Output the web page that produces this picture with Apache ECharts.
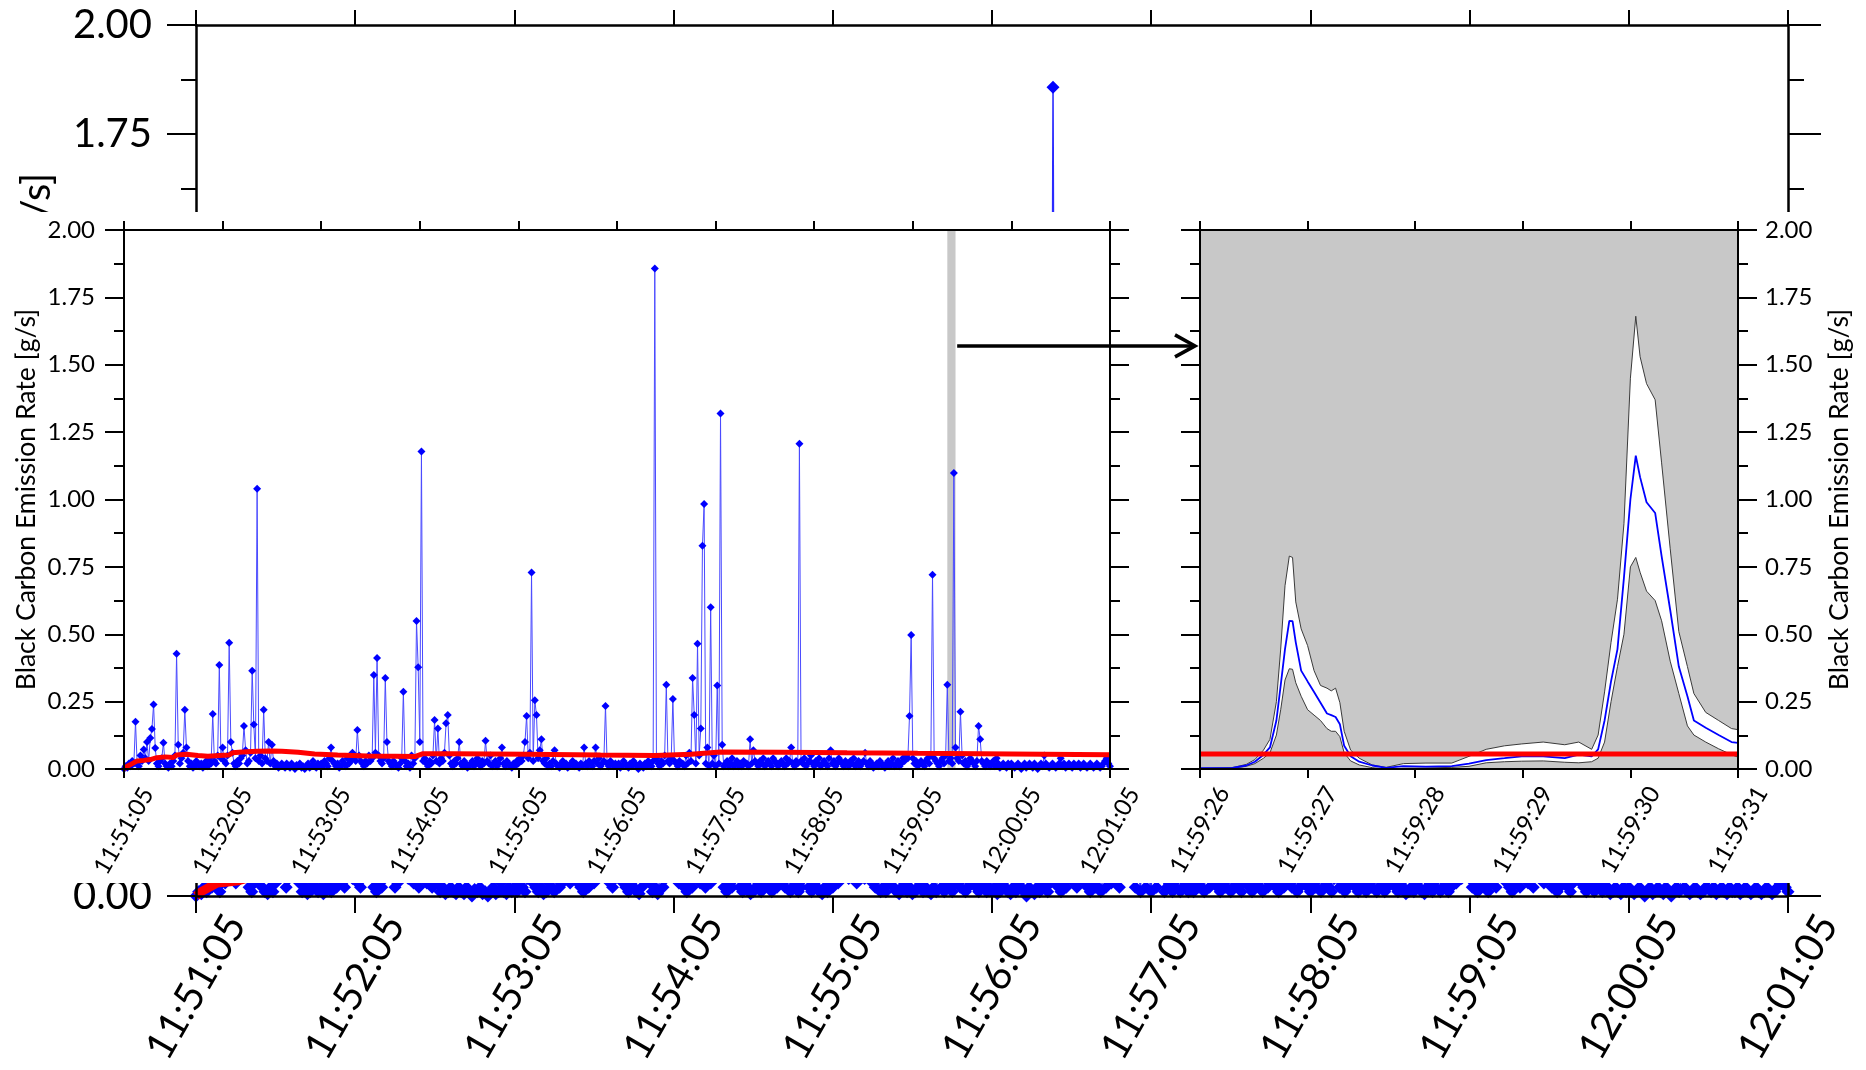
<!DOCTYPE html>
<html><head><meta charset="utf-8">
<script src="https://cdn.jsdelivr.net/npm/echarts@6/dist/echarts.min.js"></script>
<style>html,body{margin:0;padding:0;background:#fff}#c{width:1866px;height:1070px}</style>
</head><body><div id="c"></div>
<script>
// ---------- data ----------
const fullTickLabels = ['11:51:05','11:52:05','11:53:05','11:54:05','11:55:05','11:56:05','11:57:05','11:58:05','11:59:05','12:00:05','12:01:05'];
const zoomTickLabels = ['11:59:26','11:59:27','11:59:28','11:59:29','11:59:30','11:59:31'];
const yAxisTitle = 'Black Carbon Emission Rate [g/s]';

// 1 Hz black carbon emission rate [g/s], index = seconds after 11:51:05
const bcRate = [
0,.01,.005,.02,.01,.03,.02,.175,.02,.01,.05,.03,.072,.04,.1,.03,.115,.148,.239,.078,
.02,.01,.03,.04,.097,.02,.01,.005,.02,.01,.03,.05,.428,.09,.02,.04,.06,.22,.08,.03,
.01,.02,.005,.01,.03,.02,.01,.02,.005,.015,.03,.01,.04,.02,.204,.03,.02,.05,.386,.04,
.08,.03,.02,.05,.468,.1,.06,.02,.01,.03,.02,.04,.05,.16,.07,.02,.03,.06,.365,.165,
.04,1.04,.03,.05,.02,.22,.04,.03,.1,.02,.09,.03,.01,.02,.005,.01,.02,.01,.005,.02,
.01,.005,.02,.01,0,.015,.01,.02,.005,.01,0,.01,.02,.005,.01,.03,.01,.005,.02,.01,
.02,.01,.03,.02,.01,.04,.08,.03,.02,.01,.02,.005,.01,.03,.02,.01,.04,.02,.03,.06,
.04,.03,.145,.05,.03,.02,.01,.03,.02,.05,.03,.04,.349,.06,.412,.05,.03,.02,.04,.338,
.1,.03,.02,.01,.03,.02,.01,.005,.02,.04,.287,.03,.01,.02,.005,.05,.02,.04,.549,.378,
.1,1.178,.03,.04,.02,.01,.03,.02,.05,.182,.03,.15,.02,.04,.03,.06,.17,.2,.05,.02,
.01,.03,.02,.04,.1,.02,.01,.03,.02,.005,.01,.02,.03,.01,.02,.04,.02,.01,.03,.02,
.105,.03,.02,.05,.01,.02,.03,.01,.02,.04,.08,.02,.01,.03,.02,.01,.005,.02,.01,.03,
.02,.04,.03,.05,.1,.197,.04,.06,.729,.03,.255,.2,.04,.07,.11,.03,.02,.04,.01,.02,
.01,.03,.07,.02,.01,.005,.02,.03,.01,.02,.005,.01,.02,.03,.01,.02,.01,.005,.02,.01,
.08,.02,.01,.03,.02,.01,.03,.08,.02,.04,.01,.02,.03,.234,.02,.01,.03,.02,.01,.02,
.01,.02,.005,.01,.03,.02,.01,.005,.02,.01,.03,.02,.01,0,.02,.01,.005,.02,.01,.03,
.02,.01,.03,1.857,.04,.02,.01,.03,.02,.05,.313,.03,.02,.04,.26,.03,.02,.01,.03,.02,
.02,.01,.05,.02,.06,.03,.338,.2,.02,.465,.05,.15,.828,.983,.02,.08,.01,.6,.02,.05,
.01,.31,.02,1.319,.09,.01,.02,.03,.01,.02,.04,.01,.02,.03,.01,.02,.01,.03,.02,.02,
.01,.11,.02,.07,.03,.02,.01,.03,.02,.04,.01,.02,.03,.02,.01,.04,.03,.02,.01,.02,
.03,.02,.01,.04,.02,.03,.08,.02,.01,.03,.02,1.207,.03,.02,.04,.01,.02,.03,.05,.02,
.01,.03,.02,.04,.01,.02,.03,.02,.01,.04,.07,.02,.03,.01,.02,.04,.03,.02,.01,.03,
.02,.01,.03,.02,.04,.01,.02,.03,.01,.02,.03,.06,.02,.01,.03,.02,.005,.01,.02,.01,
.03,.02,.01,.005,.02,.03,.01,.02,.04,.01,.02,.03,.01,.02,.04,.03,.05,.04,.197,.497,
.04,.02,.03,.01,.02,.03,.02,.01,.03,.04,.02,.05,.721,.04,.03,.02,.01,.03,.04,.02,
.05,.313,.03,.04,.02,1.098,.08,.04,.03,.212,.05,.02,.03,.01,.02,.04,.03,.02,.01,.03,
.16,.11,.03,.02,.01,.03,.02,.01,.02,.03,.01,.04,.02,.005,.01,.02,.01,.005,.02,.01,
.02,.01,.005,.01,.02,.01,0,.01,.02,.005,.01,.02,.01,.005,.02,.01,0,.01,.02,.01,
.05,.02,.01,.005,.01,.02,.01,.005,.01,.02,.04,.01,.02,.005,.01,.02,.01,.005,.02,.01,
.01,.02,.005,.01,.02,.01,.005,.01,.02,.01,.005,.01,.02,.01,.005,.01,.02,.03,.04,.02,
.01
];

// running average (red line), seconds after 11:51:05
const avgSeconds = [0,2,5,8,12,16,20,25,30,32,38,45,51,58,64,66,72,81,90,96,106,116,130,148,165,177,182,200,246,290,323,345,363,400,440,483,540,600];
const avgRate    = [0,.01,.02,.03,.032,.035,.042,.045,.043,.052,.055,.05,.047,.05,.052,.06,.063,.066,.067,.066,.062,.056,.052,.048,.047,.046,.057,.057,.055,.052,.05,.055,.063,.062,.06,.058,.056,.053];

// zoom window (seconds after 11:51:05) shown by the grey band
const zoomWindow = [501, 506];

// 5 s zoom, seconds after 11:59:26
const zoomSeconds = [0,.3,.43,.51,.59,.65,.71,.75,.79,.83,.86,.89,.94,1,1.06,1.12,1.18,1.22,1.26,1.3,1.34,1.4,1.48,1.6,1.73,1.89,2.1,2.34,2.5,2.66,2.83,2.99,3.19,3.39,3.52,3.64,3.7,3.76,3.82,3.88,3.94,4,4.05,4.09,4.15,4.23,4.29,4.37,4.45,4.53,4.59,4.7,4.82,4.94,5];
const zoomMean  = [.003,.004,.013,.027,.053,.08,.18,.31,.445,.55,.549,.47,.365,.325,.286,.246,.206,.2,.193,.166,.086,.047,.027,.013,.004,.011,.009,.011,.02,.033,.04,.047,.047,.04,.053,.047,.073,.18,.325,.445,.71,1,1.163,1.083,.99,.95,.79,.59,.38,.27,.18,.153,.126,.1,.097];
const zoomUpper = [.003,.005,.017,.035,.07,.11,.25,.445,.68,.79,.785,.62,.52,.458,.365,.31,.3,.29,.3,.246,.14,.07,.04,.015,.006,.02,.022,.022,.047,.073,.086,.093,.1,.09,.1,.073,.126,.286,.47,.63,.91,1.45,1.68,1.53,1.43,1.37,1.136,.817,.51,.38,.28,.21,.18,.15,.146];
const zoomLower = [0,.002,.01,.02,.04,.06,.126,.22,.33,.372,.37,.32,.27,.22,.2,.18,.15,.14,.14,.12,.06,.03,.015,.005,0,.003,.004,.006,.01,.023,.027,.029,.03,.025,.023,.027,.04,.1,.25,.38,.5,.75,.785,.73,.66,.625,.55,.4,.28,.16,.126,.1,.075,.053,.044];
const zoomAvgSeconds = [0, 5];
const zoomAvgRate = [.056, .056];

// arrow anchor (value coords)
const arrowStartSecond = 507;
const arrowRate = 1.57;

// ---------- build ----------
const FONT = 'Lato';
const BLACK = '#000';
const pairs = (xs, ys) => xs.map((x, i) => [x, ys[i]]);
const bcData = bcRate.map((v, i) => [i, v]);
const avgData = pairs(avgSeconds, avgRate);

function xAxisDef(grid, pos, max, interval, labels, o) {
  return {
    gridIndex: grid, type: 'value', position: pos, min: 0, max: max, interval: interval,
    zlevel: o.zlevel, z: 10,
    axisLine: {show: true, onZero: false, lineStyle: {color: BLACK, width: o.lineW}},
    axisTick: {show: true, inside: false, length: o.tickLen, lineStyle: {color: BLACK, width: o.tickW}},
    axisLabel: labels ? {
      show: true, rotate: 60, align: 'center', verticalAlign: 'middle', margin: o.labelMargin,
      fontSize: o.fontSize, fontFamily: FONT, color: BLACK, showMinLabel: true, showMaxLabel: true,
      formatter: v => labels[Math.round(v / interval)]
    } : {show: false},
    splitLine: {show: false}, minorTick: {show: false}
  };
}
function yAxisDef(grid, pos, o) {
  return {
    gridIndex: grid, type: 'value', position: pos, min: 0, max: 2, interval: 0.25,
    zlevel: o.zlevel, z: 10,
    axisLine: {show: true, onZero: false, lineStyle: {color: BLACK, width: o.lineW}},
    axisTick: {show: true, inside: false, length: o.tickLen, lineStyle: {color: BLACK, width: o.tickW}},
    minorTick: {show: true, splitNumber: 2, length: o.minorLen, lineStyle: {color: BLACK, width: o.tickW}},
    axisLabel: o.labels ? {
      show: true, margin: o.labelMargin, fontSize: o.fontSize, fontFamily: FONT, color: BLACK,
      showMinLabel: true, showMaxLabel: true, formatter: v => v.toFixed(2)
    } : {show: false},
    name: o.name || '', nameLocation: 'middle', nameRotate: 90, nameGap: o.nameGap || 0,
    nameMoveOverlap: false,
    nameTextStyle: {fontSize: o.nameSize || o.fontSize, fontFamily: FONT, color: BLACK},
    splitLine: {show: false}, minorSplitLine: {show: false}
  };
}

const bg = {zlevel: 0, lineW: 2.5, tickW: 2};
const pn = {zlevel: 2, lineW: 2, tickW: 2};

const option = {
  animation: false,
  backgroundColor: '#fff',
  grid: [
    {left: 196, right: 78, top: 25, bottom: 174, containLabel: false, outerBoundsMode: 'none', zlevel: 0},
    {left: 124, right: 756, top: 230, bottom: 301, containLabel: false, outerBoundsMode: 'none', zlevel: 2},
    {left: 1200, right: 128, top: 230, bottom: 301, containLabel: false, outerBoundsMode: 'none', zlevel: 2,
     show: true, backgroundColor: '#c8c8c8', borderWidth: 0}
  ],
  xAxis: [
    xAxisDef(0, 'bottom', 600, 60, fullTickLabels, {...bg, tickLen: 17, labelMargin: 91, fontSize: 40}),
    xAxisDef(0, 'top', 600, 60, null, {...bg, tickLen: 15}),
    xAxisDef(1, 'bottom', 600, 60, fullTickLabels, {...pn, tickLen: 9, labelMargin: 62, fontSize: 24}),
    xAxisDef(1, 'top', 600, 60, null, {...pn, tickLen: 9}),
    xAxisDef(2, 'bottom', 5, 1, zoomTickLabels, {...pn, tickLen: 9, labelMargin: 61, fontSize: 24}),
    xAxisDef(2, 'top', 5, 1, null, {...pn, tickLen: 9})
  ],
  yAxis: [
    yAxisDef(0, 'left', {...bg, tickLen: 29, minorLen: 15, labels: true, labelMargin: 44, fontSize: 40, name: yAxisTitle, nameGap: 139}),
    yAxisDef(0, 'right', {...bg, tickLen: 33, minorLen: 16, labels: false}),
    yAxisDef(1, 'left', {...pn, tickLen: 19, minorLen: 10, labels: true, labelMargin: 29, fontSize: 24, nameSize: 26.5, name: yAxisTitle, nameGap: 84}),
    yAxisDef(1, 'right', {...pn, tickLen: 19, minorLen: 10, labels: false}),
    yAxisDef(2, 'left', {...pn, tickLen: 19, minorLen: 10, labels: false}),
    yAxisDef(2, 'right', {...pn, tickLen: 19, minorLen: 10, labels: true, labelMargin: 27, fontSize: 24, nameSize: 26.5, name: yAxisTitle, nameGap: 88})
  ],
  series: [
    // background full-size chart
    {type: 'line', xAxisIndex: 0, yAxisIndex: 0, zlevel: 0, z: 2, data: bcData,
     symbol: 'diamond', symbolSize: 13, showSymbol: true, itemStyle: {color: '#0000ff'},
     lineStyle: {color: '#2a2aff', width: 1.5}, emphasis: {disabled: true}},
    {type: 'line', xAxisIndex: 0, yAxisIndex: 0, zlevel: 0, z: 3, data: avgData,
     showSymbol: false, lineStyle: {color: '#ff0000', width: 9}, emphasis: {disabled: true}},
    // left panel: grey band marking the zoom window
    {type: 'custom', xAxisIndex: 2, yAxisIndex: 2, zlevel: 2, z: 1, data: [zoomWindow],
     renderItem: (params, api) => {
       const a = api.coord([api.value(0), 2]);
       const b = api.coord([api.value(1), 0]);
       return {type: 'rect', shape: {x: a[0], y: a[1], width: b[0] - a[0], height: b[1] - a[1]},
               style: {fill: '#c8c8c8'}};
     }, encode: {x: [0, 1]}, silent: true},
    {type: 'line', xAxisIndex: 2, yAxisIndex: 2, zlevel: 2, z: 3, data: bcData,
     symbol: 'diamond', symbolSize: 8, showSymbol: true, itemStyle: {color: '#0000ff'},
     lineStyle: {color: '#4a4aff', width: 1}, emphasis: {disabled: true}},
    {type: 'line', xAxisIndex: 2, yAxisIndex: 2, zlevel: 2, z: 4, data: avgData,
     showSymbol: false, lineStyle: {color: '#ff0000', width: 5}, emphasis: {disabled: true}},
    // right panel
    {type: 'line', xAxisIndex: 4, yAxisIndex: 5, zlevel: 2, z: 2, data: pairs(zoomSeconds, zoomUpper),
     showSymbol: false, lineStyle: {color: '#3a3a3a', width: 1}, areaStyle: {color: '#ffffff', opacity: 1}, emphasis: {disabled: true}},
    {type: 'line', xAxisIndex: 4, yAxisIndex: 5, zlevel: 2, z: 3, data: pairs(zoomSeconds, zoomLower),
     showSymbol: false, lineStyle: {color: '#3a3a3a', width: 1}, areaStyle: {color: '#c8c8c8', opacity: 1}, emphasis: {disabled: true}},
    {type: 'line', xAxisIndex: 4, yAxisIndex: 5, zlevel: 2, z: 4, data: pairs(zoomSeconds, zoomMean),
     showSymbol: false, lineStyle: {color: '#0000ff', width: 1.8}, emphasis: {disabled: true}},
    {type: 'line', xAxisIndex: 4, yAxisIndex: 5, zlevel: 2, z: 5, data: pairs(zoomAvgSeconds, zoomAvgRate),
     showSymbol: false, lineStyle: {color: '#ff0000', width: 5}, emphasis: {disabled: true}}
  ],
  graphic: [
    {type: 'rect', id: 'cover', zlevel: 1, z: 0, silent: true,
     shape: {x: 0, y: 212, width: 1866, height: 671}, style: {fill: '#ffffff'}}
  ]
};

const chart = echarts.init(document.getElementById('c'), null, {renderer: 'canvas'});
chart.setOption(option);

const p0 = chart.convertToPixel({xAxisIndex: 2, yAxisIndex: 2}, [arrowStartSecond, arrowRate]);
const p1 = chart.convertToPixel({xAxisIndex: 4, yAxisIndex: 5}, [zoomSeconds[0], arrowRate]);
const tip = p1[0] - 5, ay = p0[1];
chart.setOption({
  graphic: [
    {type: 'rect', id: 'cover', zlevel: 1, z: 0, silent: true,
     shape: {x: 0, y: 212, width: 1866, height: 671}, style: {fill: '#ffffff'}},
    {type: 'line', id: 'arrowLine', zlevel: 2, z: 20, silent: true,
     shape: {x1: p0[0], y1: ay, x2: tip - 2, y2: ay}, style: {stroke: '#000', lineWidth: 3.5}},
    {type: 'polyline', id: 'arrowHead', zlevel: 2, z: 20, silent: true,
     shape: {points: [[tip - 20, ay - 11], [tip, ay], [tip - 20, ay + 11]]},
     style: {stroke: '#000', lineWidth: 3.5, fill: null}}
  ]
});
</script></body></html>
